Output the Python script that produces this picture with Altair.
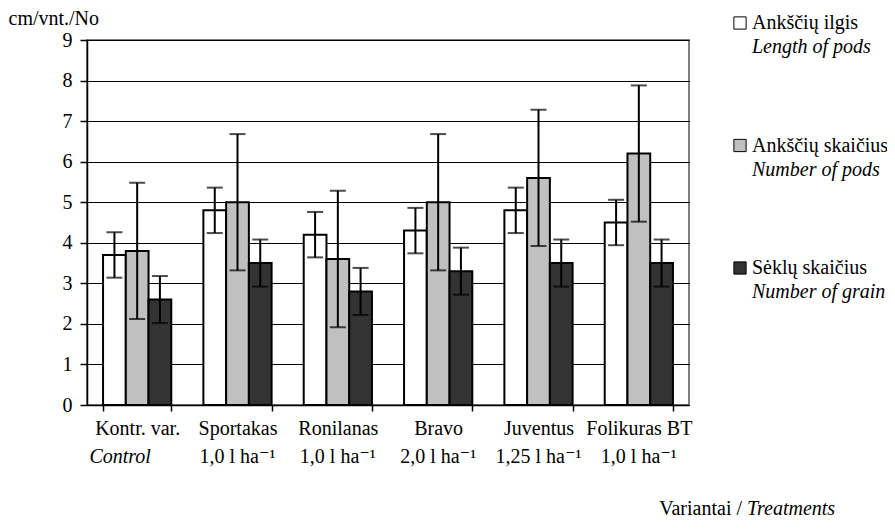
import altair as alt
import pandas as pd

# ---- data ----
categories = ["Kontr. var.", "Sportakas", "Ronilanas", "Bravo", "Juventus", "Folikuras BT"]
doses = ["Control", "1,0 l ha⁻¹", "1,0 l ha⁻¹", "2,0 l ha⁻¹", "1,25 l ha⁻¹", "1,0 l ha⁻¹"]

series = ["Ankščių ilgis", "Ankščių skaičius", "Sėklų skaičius"]
series_en = ["Length of pods", "Number of pods", "Number of grain"]
colors = ["#ffffff", "#c0c0c0", "#333333"]

pod_length = [3.7, 4.8, 4.2, 4.3, 4.8, 4.5]
pod_number = [3.8, 5.0, 3.6, 5.0, 5.6, 6.2]
grain_number = [2.6, 3.5, 2.8, 3.3, 3.5, 3.5]

pod_length_err = [0.56, 0.56, 0.56, 0.56, 0.56, 0.56]
pod_number_err = [1.68, 1.68, 1.68, 1.68, 1.68, 1.68]
grain_number_err = [0.58, 0.58, 0.58, 0.58, 0.58, 0.58]

y_ticks = [0, 1, 2, 3, 4, 5, 6, 7, 8, 9]

# ---- tables ----
rows = []
for i, c in enumerate(categories):
    for s, vals, errs in zip(series,
                             [pod_length, pod_number, grain_number],
                             [pod_length_err, pod_number_err, grain_number_err]):
        rows.append({"cat": c, "series": s, "value": vals[i], "err": errs[i]})
df = pd.DataFrame(rows)
lab_df = pd.DataFrame({"cat": categories, "dose": doses})
leg_df = pd.DataFrame({"series": series, "en": series_en})

FONT = "'Liberation Serif', 'DejaVu Serif', serif"
FS = 20
W, H = 602, 365
SP = "\u2002\u2002"

label_expr = (f"datum.label == '{categories[0]}' ? '{categories[0]}{SP}' : "
              f"datum.label == '{categories[5]}' ? '{SP}{categories[5]}' : datum.label")

x_enc = alt.X("cat:N", sort=categories,
              scale=alt.Scale(paddingInner=0.32, paddingOuter=0.16),
              axis=alt.Axis(title=None, labelAngle=0, tickBand="extent",
                            tickSize=6, labelPadding=7, grid=False,
                            labelExpr=label_expr))
xoff = alt.XOffset("series:N", sort=series, scale=alt.Scale(domain=series))
y_scale = alt.Scale(domain=[0, 9])
y_axis = alt.Axis(values=y_ticks, title="cm/vnt./No", titleAngle=0,
                  titleX=-79, titleY=-22, titleAlign="left",
                  titleBaseline="middle", tickSize=7, labelPadding=8,
                  grid=True, gridColor="#000000", gridWidth=1)
color_enc = alt.Color("series:N", scale=alt.Scale(domain=series, range=colors),
                      legend=None)

base = alt.Chart(df)
bars = base.mark_bar(stroke="black", strokeWidth=2).encode(
    x=x_enc, xOffset=xoff,
    y=alt.Y("value:Q", scale=y_scale, axis=y_axis, title="cm/vnt./No"),
    color=color_enc,
)
errd = base.transform_calculate(lo="datum.value - datum.err",
                                hi="datum.value + datum.err")
rules = errd.mark_rule(color="black", strokeWidth=2).encode(
    x=x_enc, xOffset=xoff,
    y=alt.Y("lo:Q", scale=y_scale, title="cm/vnt./No"), y2="hi:Q")
cap_hi = errd.mark_tick(color="black", thickness=2, size=16).encode(
    x=x_enc, xOffset=xoff, y=alt.Y("hi:Q", scale=y_scale, title="cm/vnt./No"))
cap_lo = errd.mark_tick(color="black", thickness=2, size=16).encode(
    x=x_enc, xOffset=xoff, y=alt.Y("lo:Q", scale=y_scale, title="cm/vnt./No"))

dose_ctrl = alt.Chart(lab_df).transform_filter(alt.datum.cat == categories[0]).mark_text(
    font=FONT, fontSize=FS, fontStyle="italic", baseline="alphabetic", dx=-17,
    color="black").encode(x=alt.X("cat:N", sort=categories), y=alt.value(H + 58),
                          text="dose:N")
dose_rest = alt.Chart(lab_df).transform_filter(alt.datum.cat != categories[0]).mark_text(
    font=FONT, fontSize=FS, baseline="alphabetic", color="black").encode(
    x=alt.X("cat:N", sort=categories), y=alt.value(H + 58), text="dose:N")

xt1 = alt.Chart(pd.DataFrame({"t": ["Variantai /"]})).mark_text(
    font=FONT, fontSize=FS, align="right", baseline="alphabetic", color="black").encode(
    text="t:N", x=alt.value(655), y=alt.value(H + 110))
xt2 = alt.Chart(pd.DataFrame({"t": ["Treatments"]})).mark_text(
    font=FONT, fontSize=FS, fontStyle="italic", align="left", baseline="alphabetic",
    color="black").encode(text="t:N", x=alt.value(660), y=alt.value(H + 110))

main = alt.layer(bars, rules, cap_hi, cap_lo, dose_ctrl, dose_rest, xt1, xt2)

leg_y = alt.Y("series:N", sort=series,
              scale=alt.Scale(type="point", domain=series, range=[-17, 228], padding=0),
              axis=None)
leg_base = alt.Chart(leg_df)
leg_sq = leg_base.mark_square(size=150, stroke="black", strokeWidth=1, opacity=1).encode(
    x=alt.value(653), y=leg_y, color=color_enc)
leg_t1 = leg_base.mark_text(font=FONT, fontSize=FS, align="left", baseline="middle",
                            color="black").encode(x=alt.value(665), y=leg_y, text="series:N")
leg_t2 = leg_base.mark_text(font=FONT, fontSize=FS, fontStyle="italic", align="left",
                            baseline="middle", dy=24, color="black").encode(
    x=alt.value(665), y=leg_y, text="en:N")
legend = alt.layer(leg_sq, leg_t1, leg_t2)

chart = alt.layer(main, legend).resolve_scale(y="independent").properties(
    width=W, height=H,
    autosize=alt.AutoSizeParams(type="none"),
    padding={"left": 79, "top": 32, "right": 198, "bottom": 117},
).configure_view(stroke="#808080", strokeWidth=2).configure_axis(
    labelFont=FONT, labelFontSize=FS, labelColor="black",
    titleFont=FONT, titleFontSize=FS, titleColor="black", titleFontWeight="normal",
    domainColor="black", domainWidth=1.5, tickColor="black", tickWidth=1.5,
)

chart.save("out.html", embed_options={"renderer": "svg", "actions": False})
